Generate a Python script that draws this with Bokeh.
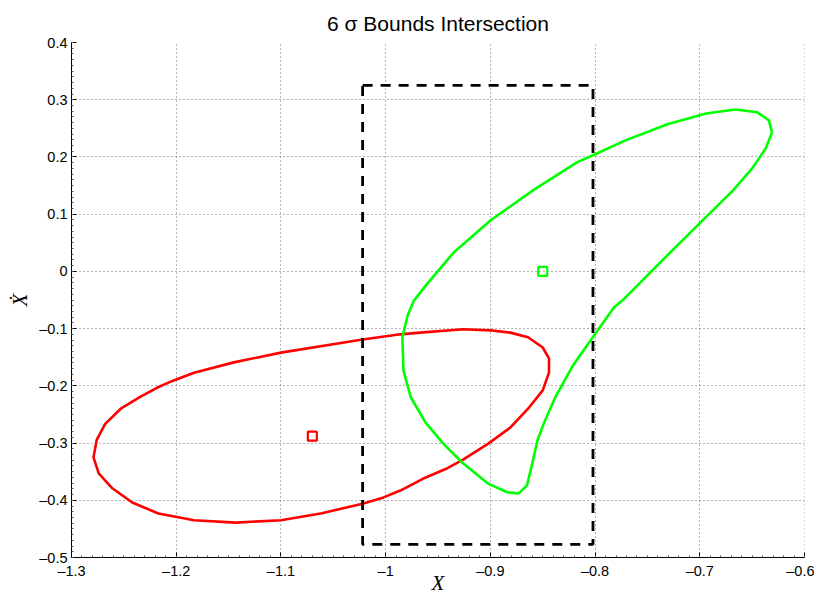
from bokeh.plotting import figure
from bokeh.models import Range1d, SingleIntervalTicker, CustomJSTickFormatter
from bokeh.embed import file_html
from bokeh.resources import INLINE

# 6-sigma bound of the first state estimate (position X, velocity X-dot)
red_x = [-0.844, -0.850, -0.864, -0.881, -0.900, -0.926, -0.967, -0.986, -1.022,
         -1.100, -1.145, -1.183, -1.203, -1.218, -1.234, -1.253, -1.268, -1.276,
         -1.279, -1.274, -1.261, -1.242, -1.217, -1.183, -1.143, -1.100, -1.062,
         -1.022, -1.002, -0.986, -0.964, -0.941, -0.926, -0.902, -0.881, -0.864,
         -0.850, -0.844, -0.844]
red_y = [-0.152, -0.133, -0.115, -0.107, -0.103, -0.101, -0.107, -0.110, -0.119,
         -0.142, -0.159, -0.177, -0.191, -0.203, -0.219, -0.240, -0.267, -0.295,
         -0.325, -0.353, -0.379, -0.404, -0.423, -0.435, -0.439, -0.435, -0.423,
         -0.406, -0.395, -0.383, -0.362, -0.344, -0.329, -0.301, -0.273, -0.240,
         -0.208, -0.177, -0.152]

# 6-sigma bound of the second state estimate
green_x = [-0.631, -0.634, -0.645, -0.666, -0.694, -0.731, -0.771, -0.802, -0.817,
           -0.859, -0.900, -0.935, -0.960, -0.973, -0.979, -0.984, -0.983, -0.976,
           -0.962, -0.945, -0.927, -0.902, -0.884, -0.873, -0.865, -0.860, -0.855,
           -0.849, -0.838, -0.821, -0.801, -0.782, -0.774, -0.731, -0.699, -0.668,
           -0.650, -0.637, -0.631]
green_y = [0.243, 0.264, 0.278, 0.283, 0.276, 0.257, 0.229, 0.203, 0.191,
           0.142, 0.089, 0.033, -0.021, -0.051, -0.077, -0.115, -0.173, -0.220,
           -0.264, -0.301, -0.334, -0.371, -0.386, -0.388, -0.374, -0.336, -0.295,
           -0.266, -0.220, -0.164, -0.112, -0.063, -0.051, 0.028, 0.086, 0.142,
           0.180, 0.215, 0.243]

# state means
red_center = (-1.070, -0.288)
green_center = (-0.850, 0.000)

# intersection box: [x_min, x_max], [y_min, y_max]
box_x = [-1.022, -0.802]
box_y = [-0.477, 0.325]

p = figure(width=814, height=598, output_backend="svg", toolbar_location=None,
           x_range=Range1d(-1.3, -0.6), y_range=Range1d(-0.5, 0.4),
           title="6 \u03c3 Bounds Intersection",
           min_border_left=71, min_border_right=10, min_border_top=42,
           min_border_bottom=41)
p.outline_line_color = None
p.background_fill_color = "white"
p.border_fill_color = "white"

p.title.align = "center"
p.title.text_font = "Liberation Sans"
p.title.text_font_size = "21px"
p.title.text_font_style = "normal"
p.title.text_color = "black"
p.title.standoff = 16

fmt = CustomJSTickFormatter(code="""
    if (Math.abs(tick) < 1e-9) return '0';
    const s = (Math.round(tick * 10) / 10).toString();
    return s.replace('-', '\\u2013');
""")

for ax in (p.xaxis[0], p.yaxis[0]):
    ax.ticker = SingleIntervalTicker(interval=0.1, num_minor_ticks=10)
    ax.formatter = fmt
    ax.axis_line_color = "black"
    ax.axis_line_width = 1
    ax.major_tick_in = 5
    ax.major_tick_out = 0
    ax.major_tick_line_color = "black"
    ax.minor_tick_in = 2
    ax.minor_tick_out = 0
    ax.minor_tick_line_color = "#555555"
    ax.major_label_text_font = "Liberation Sans"
    ax.major_label_text_font_size = "14.5px"
    ax.major_label_text_color = "black"
    ax.axis_label_text_font = "Liberation Serif"
    ax.axis_label_text_font_style = "italic"
    ax.axis_label_text_font_size = "21px"
    ax.axis_label_text_color = "black"

p.xaxis.axis_label = "X"
p.yaxis.axis_label = "\u1e8a"
p.xaxis.major_label_standoff = 5
p.yaxis.major_label_standoff = 4
p.xaxis.axis_label_standoff = -11
p.yaxis.axis_label_standoff = 4

for g in (p.xgrid[0], p.ygrid[0]):
    g.ticker = SingleIntervalTicker(interval=0.1)
    g.grid_line_color = "#666666"
    g.grid_line_width = 1
    g.grid_line_dash = "1 3"

# bounds
p.line(red_x, red_y, line_color="#ff0000", line_width=2.6)
p.line(green_x, green_y, line_color="#00ff00", line_width=2.6)

# intersection box
rx = [box_x[0], box_x[1], box_x[1], box_x[0], box_x[0]]
ry = [box_y[1], box_y[1], box_y[0], box_y[0], box_y[1]]
p.line(rx, ry, line_color="black", line_width=2.8, line_dash="10 8")

# means
p.scatter([red_center[0]], [red_center[1]], marker="square", size=9,
          fill_color=None, line_color="#ff0000", line_width=2.2)
p.scatter([green_center[0]], [green_center[1]], marker="square", size=9,
          fill_color=None, line_color="#00ff00", line_width=2.2)

open("out.html", "w").write(file_html(p, INLINE))
